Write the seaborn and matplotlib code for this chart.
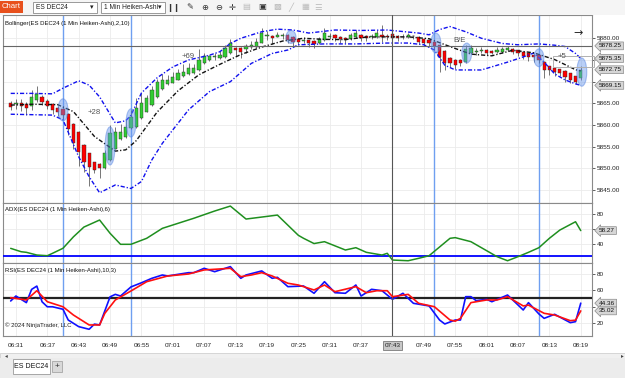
import matplotlib
matplotlib.use("Agg")
import matplotlib.pyplot as plt
import matplotlib.transforms as mtrans
from matplotlib.patches import Ellipse, Rectangle
import seaborn as sns
import pandas as pd

# ---- data (1 min Heiken-Ashi bars, first bar 06:30, last bar 08:19) ----
first_bar = "06:30"
bar_open = [5865.2, 5864.8, 5865.2, 5864.8, 5864.5, 5865.8, 5866.5, 5865.5, 5864.8, 5864.0,
            5863.7, 5862.5, 5860.2, 5858.5, 5855.4, 5853.5, 5851.4, 5851.0, 5850.2, 5852.0,
            5854.6, 5856.8, 5857.3, 5859.3, 5859.6, 5861.6, 5863.1, 5864.6, 5866.5, 5868.2,
            5869.5, 5869.8, 5870.5, 5871.2, 5871.8, 5872.0, 5872.7, 5874.2, 5875.0, 5875.6,
            5875.4, 5875.6, 5876.5, 5877.8, 5877.7, 5877.5, 5877.9, 5878.0, 5879.0, 5880.5,
            5880.5, 5880.4, 5880.6, 5880.8, 5880.4, 5879.8, 5879.3, 5879.5, 5879.3, 5878.9,
            5879.5, 5880.3, 5880.8, 5880.3, 5880.0, 5879.8, 5880.2, 5880.8, 5880.5, 5880.3,
            5880.3, 5880.7, 5880.5, 5881.0, 5880.5, 5880.2, 5880.3, 5880.5, 5880.4, 5879.8,
            5879.5, 5879.2, 5878.5, 5877.0, 5875.4, 5875.1, 5875.0, 5874.6, 5876.5, 5876.9,
            5877.0, 5877.2, 5877.1, 5876.9, 5876.9, 5877.2, 5877.5, 5877.2, 5876.9, 5876.5,
            5876.2, 5876.1, 5874.6, 5873.5, 5873.1, 5872.9, 5872.5, 5871.9, 5871.2, 5870.8]
bar_close = [5864.2, 5865.0, 5864.3, 5863.9, 5866.5, 5867.1, 5865.4, 5864.5, 5863.5, 5863.0,
             5862.3, 5859.2, 5855.8, 5853.9, 5851.4, 5850.4, 5849.6, 5850.0, 5853.5, 5858.1,
             5858.5, 5858.3, 5859.6, 5861.9, 5864.0, 5865.0, 5866.2, 5868.1, 5870.0, 5870.5,
             5870.5, 5871.0, 5872.1, 5872.3, 5873.1, 5873.1, 5875.0, 5875.9, 5875.8, 5875.9,
             5876.1, 5877.7, 5878.8, 5877.3, 5876.9, 5878.2, 5878.5, 5879.2, 5881.1, 5880.8,
             5880.0, 5880.8, 5880.8, 5879.6, 5879.2, 5879.1, 5879.6, 5878.8, 5878.6, 5879.8,
             5881.1, 5880.6, 5880.0, 5879.8, 5879.6, 5880.7, 5881.1, 5880.0, 5880.0, 5880.5,
             5881.1, 5880.2, 5880.3, 5880.0, 5880.0, 5880.4, 5880.7, 5880.4, 5879.2, 5879.0,
             5878.8, 5878.2, 5875.7, 5874.2, 5874.2, 5873.8, 5874.4, 5877.5, 5877.7, 5877.1,
             5877.3, 5876.7, 5876.7, 5877.3, 5877.5, 5877.7, 5876.9, 5876.5, 5875.9, 5875.7,
             5875.6, 5875.0, 5872.7, 5872.7, 5872.3, 5872.1, 5871.0, 5870.5, 5870.0, 5872.75]
bar_high = [5865.6, 5866.0, 5866.1, 5865.4, 5868.1, 5868.9, 5867.0, 5866.0, 5865.0, 5864.3,
            5864.0, 5862.7, 5860.4, 5858.7, 5855.6, 5853.6, 5851.5, 5851.2, 5854.3, 5860.0,
            5859.5, 5860.3, 5861.2, 5863.5, 5866.2, 5867.3, 5867.0, 5869.0, 5870.6, 5871.8,
            5871.5, 5872.2, 5873.0, 5874.0, 5874.3, 5874.0, 5877.5, 5876.6, 5876.2, 5876.7,
            5877.0, 5878.5, 5879.8, 5878.0, 5877.9, 5878.6, 5879.3, 5880.0, 5882.3, 5881.6,
            5880.7, 5881.4, 5881.2, 5881.0, 5880.6, 5880.0, 5880.2, 5879.7, 5879.5, 5880.3,
            5882.3, 5881.3, 5881.0, 5880.5, 5880.2, 5881.3, 5881.9, 5881.0, 5880.7, 5881.0,
            5881.8, 5883.1, 5880.9, 5881.2, 5880.7, 5880.9, 5881.2, 5880.8, 5880.6, 5880.0,
            5879.7, 5879.4, 5878.7, 5877.2, 5875.6, 5875.3, 5875.2, 5878.5, 5878.5, 5877.8,
            5878.0, 5877.5, 5877.3, 5877.9, 5878.0, 5878.3, 5877.7, 5877.4, 5877.1, 5876.7,
            5876.4, 5876.3, 5874.8, 5873.7, 5873.3, 5873.0, 5872.7, 5872.0, 5871.4, 5873.5]
bar_low = [5863.4, 5863.6, 5863.2, 5862.3, 5863.4, 5865.3, 5864.6, 5863.6, 5862.6, 5862.0,
           5861.5, 5857.7, 5854.6, 5850.5, 5849.3, 5846.0, 5849.0, 5847.8, 5849.8, 5851.8,
           5854.4, 5856.6, 5857.1, 5859.1, 5859.4, 5861.4, 5862.9, 5864.4, 5866.3, 5868.0,
           5869.3, 5869.6, 5870.3, 5871.0, 5871.6, 5871.8, 5872.5, 5874.0, 5874.8, 5875.0,
           5875.2, 5875.4, 5876.3, 5876.0, 5875.5, 5876.5, 5877.6, 5877.8, 5878.8, 5879.5,
           5878.7, 5880.2, 5879.9, 5878.9, 5878.2, 5878.5, 5878.9, 5877.9, 5877.7, 5878.7,
           5879.3, 5879.8, 5879.3, 5879.0, 5878.9, 5879.6, 5880.0, 5879.3, 5879.4, 5879.8,
           5880.1, 5879.2, 5879.6, 5879.0, 5879.4, 5879.8, 5880.1, 5879.9, 5878.6, 5878.3,
           5878.0, 5877.3, 5872.3, 5872.7, 5873.3, 5873.0, 5873.5, 5874.4, 5876.3, 5876.2,
           5876.5, 5876.2, 5876.3, 5876.5, 5876.6, 5877.0, 5876.3, 5875.9, 5875.3, 5874.8,
           5874.5, 5874.2, 5870.8, 5871.5, 5871.4, 5871.2, 5870.0, 5869.6, 5869.4, 5870.4]

# Bollinger(2,10) at some bars
bb_upper_idx = [0, 4, 8, 10, 13, 15, 17, 19, 20, 22, 23, 25, 28, 31, 34, 38, 40, 42, 44, 48,
                51, 54, 57, 62, 67, 72, 78, 80, 82, 84, 87, 90, 94, 97, 101, 104, 106, 108, 109]
bb_upper = [5867.3, 5867.3, 5867.2, 5868.5, 5870.2, 5869.2, 5866.5, 5862.5, 5860.5, 5861.0,
            5862.3, 5867.4, 5870.9, 5873.4, 5875.0, 5876.1, 5876.9, 5878.8, 5880.0, 5881.5,
            5882.1, 5881.9, 5881.2, 5881.9, 5881.8, 5881.9, 5881.2, 5880.8, 5882.0, 5882.7,
            5881.5, 5880.0, 5878.8, 5878.5, 5878.7, 5878.4, 5878.1, 5876.5, 5875.35]
bb_mid_idx = [0, 4, 9, 12, 16, 20, 22, 24, 28, 32, 36, 40, 44, 48, 52, 56, 60, 64, 68, 72,
              76, 80, 84, 88, 92, 96, 100, 104, 108, 109]
bb_mid = [5864.6, 5864.8, 5864.7, 5863.1, 5857.4, 5854.0, 5854.3, 5856.4, 5863.0, 5867.9,
          5871.6, 5874.0, 5876.25, 5877.97, 5879.36, 5880.0, 5879.74, 5879.7, 5880.27, 5880.33,
          5880.32, 5879.9, 5878.08, 5876.35, 5875.96, 5877.24, 5876.65, 5875.1, 5872.76, 5872.46]
bb_lower_idx = [0, 8, 10, 13, 15, 17, 20, 23, 25, 27, 29, 31, 34, 38, 42, 46, 50, 53, 55, 60,
                66, 72, 76, 79, 81, 83, 85, 90, 95, 98, 100, 102, 104, 106, 108, 109]
bb_lower = [5862.5, 5862.3, 5861.2, 5852.7, 5848.1, 5844.4, 5846.2, 5845.4, 5847.0, 5852.0,
            5855.8, 5858.9, 5863.5, 5867.7, 5870.0, 5874.2, 5876.5, 5877.3, 5878.5, 5878.7,
            5878.7, 5878.9, 5878.9, 5878.5, 5877.3, 5873.8, 5872.7, 5872.7, 5874.5, 5875.7,
            5876.6, 5874.5, 5871.8, 5870.4, 5869.5, 5869.15]

# ADX(6)
adx_idx = [0, 2, 3, 5, 7, 8, 10, 12, 14, 17, 19, 21, 23, 26, 29, 32, 35, 39, 42, 45,
           51, 55, 56, 58, 60, 64, 66, 68, 71, 72, 73, 76, 78, 80, 84, 85, 88, 90, 93, 95,
           97, 99, 101, 103, 105, 108, 109]
adx_val = [34.6, 30.1, 29.3, 25.7, 24.8, 28.0, 34.7, 50.0, 63.0, 72.4, 54.7, 40.0, 40.0, 48.0,
           61.3, 68.0, 74.7, 84.4, 91.0, 73.7, 79.0, 52.0, 48.0, 41.0, 43.5, 32.4, 35.5, 29.3,
           25.7, 28.0, 19.0, 18.1, 21.3, 24.8, 48.0, 48.9, 43.5, 35.5, 23.5, 18.1, 23.5, 29.3,
           35.5, 48.0, 59.0, 70.1, 58.27]
adx_level = 25

# RSI(10,3)
rsi_idx = [0, 1, 3, 4, 5, 6, 7, 8, 10, 11, 13, 15, 16, 17, 19, 20, 21, 23, 25, 27,
           29, 30, 34, 35, 37, 39, 42, 44, 45, 48, 50, 51, 53, 56, 58, 60, 62, 64, 66, 67,
           69, 71, 73, 75, 77, 80, 82, 83, 85, 86, 87, 88, 89, 91, 92, 95, 97, 98, 99, 101,
           102, 104, 107, 108, 109]
rsi_val = [47, 53, 45, 61, 65, 46, 40, 40, 37, 24, 16, 12.8, 19, 18, 52, 55, 53, 64, 69, 74.4,
           78.4, 77.2, 81.2, 81.2, 86.5, 82.4, 88.5, 74.4, 78.4, 83.3, 74.4, 75.6, 64.3, 65.1, 56.3,
           70.3, 57, 56.3, 66.3, 53, 61.1, 59.4, 49, 56.3, 44.2, 41, 24, 19.2, 24, 24,
           52.2, 52.2, 47.4, 49, 46.1, 54.2, 42.2, 36.1, 45, 31.3, 26, 30.9, 20.8, 22, 44.36]
rsi_avg_idx = [0, 3, 5, 7, 10, 12, 15, 17, 18, 20, 23, 26, 30, 34, 37, 42, 44, 46, 48, 50,
               53, 55, 58, 60, 62, 66, 68, 70, 72, 73, 76, 78, 81, 84, 85, 86, 88, 91, 93, 95,
               98, 99, 102, 104, 107, 108, 109]
rsi_avg = [51, 48.2, 59.4, 46.1, 40, 30, 18, 18, 32.1, 48.2, 59.1, 70.3, 77.2, 79.6, 84.5, 86.5,
           76.4, 78.4, 81.2, 77.2, 68.4, 66.3, 60.3, 66.3, 58.2, 64.3, 57, 59.4, 59.4, 52.2,
           55, 44.2, 40.1, 24, 22.6, 26, 45, 48.2, 48.2, 52.2, 41, 42, 32.1, 30, 23.2, 23.8, 35.02]
rsi_level = 50

time_labels = ["06:31", "06:37", "06:43", "06:49", "06:55", "07:01", "07:07", "07:13", "07:19",
               "07:25", "07:31", "07:37", "07:43", "07:49", "07:55", "08:01", "08:07", "08:13", "08:19"]
cursor_time = "07:43"
cursor_price = 5878.25
signal_times = ["06:40", "06:53", "07:51", "08:11"]

# trade marker ellipses: (bar, price, points high)
mark_bar = [10, 19, 23, 53.6, 81.3, 87.2, 101, 109.2]
mark_price = [5863.5, 5855.2, 5860.5, 5880.3, 5878.9, 5876.6, 5875.5, 5872.2]
mark_h = [5.1, 8.8, 6.5, 3.0, 4.6, 4.6, 4.1, 6.5]
trade_text = ["+28", "+69", "B/E", "+5"]
trade_bar = [14.8, 32.6, 84.6, 104.6]
trade_price = [5862.8, 5875.9, 5879.6, 5875.7]

price_ticks = [5845, 5850, 5855, 5860, 5865, 5870, 5875, 5880]
price_hidden = [5870, 5875]   # covered by the value tags


def bar_of(t):
    return (pd.Timedelta(t + ":00") - pd.Timedelta(first_bar + ":00")).seconds / 60


sns.set_theme(style="white")
plt.rcParams['font.family'] = ['Liberation Sans', 'DejaVu Sans']

W, H = 625, 378
fig = plt.figure(figsize=(6.25, 3.78), dpi=100)
fig.patch.set_facecolor("white")


def fx(px):
    return px / W


def fy(py):
    return 1 - py / H


def add_panel(top, bottom):
    return fig.add_axes([fx(3), fy(bottom), fx(592) - fx(3), fy(top) - fy(bottom)])


ax_p = add_panel(15, 203)
ax_a = add_panel(203, 263)
ax_r = add_panel(263, 336)

xlim = (-1.47, 111.15)
tick_pos = [bar_of(t) for t in time_labels]
for ax in (ax_p, ax_a, ax_r):
    ax.set_xlim(*xlim)
    ax.set_facecolor("white")
    ax.yaxis.tick_right()
    ax.set_xticks(tick_pos)
    ax.grid(True, color="#ebebeb", lw=0.6)
    ax.tick_params(axis="y", labelsize=4.6, length=2, width=0.5, pad=1.5, colors="#222222")
    ax.tick_params(axis="x", length=0, labelbottom=False)
    for s in ax.spines.values():
        s.set_color("#8a8a8a")
        s.set_linewidth(0.8)
    for t in signal_times:
        ax.axvline(bar_of(t), color="#6f9ff0", lw=1.0, zorder=1)
    ax.axvline(bar_of(cursor_time), color="#555555", lw=0.8, zorder=6)

# ---- price panel ----
ax_p.set_ylim(5842.05, 5885.36)
ax_p.set_yticks(price_ticks)
ax_p.set_yticklabels(["" if v in price_hidden else f"{v:.2f}" for v in price_ticks])
bars = list(range(len(bar_open)))
ax_p.vlines(bars, bar_low, bar_high, color="#404040", lw=0.5, zorder=3)
body_col = ["#32cd32" if c >= o else "#ff0000" for o, c in zip(bar_open, bar_close)]
body_h = [c - o if abs(c - o) > 0.12 else 0.12 for o, c in zip(bar_open, bar_close)]
ax_p.bar(bars, body_h, bottom=bar_open, width=0.62, color=body_col,
         edgecolor="#2a2a2a", linewidth=0.3, zorder=4)

band_ls = (0, (3.0, 1.4, 0.9, 1.4))
sns.lineplot(x=bb_upper_idx, y=bb_upper, ax=ax_p, color="#1010ee", lw=1.0, linestyle=band_ls, zorder=5)
sns.lineplot(x=bb_lower_idx, y=bb_lower, ax=ax_p, color="#1010ee", lw=1.0, linestyle=band_ls, zorder=5)
sns.lineplot(x=bb_mid_idx, y=bb_mid, ax=ax_p, color="#111111", lw=1.0, linestyle=band_ls, zorder=5)

for b, p, h in zip(mark_bar, mark_price, mark_h):
    ax_p.add_patch(Ellipse((b, p), 1.9, h, facecolor="#6495ed", alpha=0.45,
                           edgecolor="#4f7fe0", lw=0.8, zorder=7))
for s, b, p in zip(trade_text, trade_bar, trade_price):
    ax_p.text(b, p, s, fontsize=5.6, color="#555555", va="center", zorder=8)
ax_p.add_patch(Rectangle((103.6, 5873.4), 8.0, 2.6, fill=False, ec="#b0b0b0", lw=0.7,
                         zorder=7, clip_on=False))
ax_p.axhline(cursor_price, color="#666666", lw=0.8, zorder=6)
ax_p.text(0.985, 0.905, "\u2192", transform=ax_p.transAxes, fontsize=8, ha="right",
          va="center", color="#222222", family=["DejaVu Sans"])
ax_p.text(0.004, 0.955, "Bollinger(ES DEC24 (1 Min Heiken-Ashi),2,10)", transform=ax_p.transAxes,
          fontsize=4.3, va="center", color="#111111")
ax_p.set_xlabel("")
ax_p.set_ylabel("")

# ---- ADX panel ----
ax_a.set_ylim(15.07, 95.1)
ax_a.set_yticks([40, 60, 80])
ax_a.set_yticklabels(["40", "", "80"])
ax_a.axhline(adx_level, color="#0000ff", lw=1.3, zorder=4)
sns.lineplot(x=adx_idx, y=adx_val, ax=ax_a, color="#1f8f1f", lw=1.1, zorder=5)
ax_a.text(0.004, 0.885, "ADX(ES DEC24 (1 Min Heiken-Ashi),6)", transform=ax_a.transAxes,
          fontsize=4.3, va="center", color="#111111")
ax_a.set_xlabel("")
ax_a.set_ylabel("")

# ---- RSI panel ----
ax_r.set_ylim(4.67, 92.9)
ax_r.set_yticks([20, 40, 60, 80])
ax_r.set_yticklabels(["20", "", "60", "80"])
ax_r.axhline(rsi_level, color="#222222", lw=1.6, zorder=4)
sns.lineplot(x=rsi_idx, y=rsi_val, ax=ax_r, color="#1010ff", lw=1.2, zorder=5)
sns.lineplot(x=rsi_avg_idx, y=rsi_avg, ax=ax_r, color="#ff1010", lw=1.2, zorder=6)
ax_r.text(0.004, 0.9, "RSI(ES DEC24 (1 Min Heiken-Ashi),10,3)", transform=ax_r.transAxes,
          fontsize=4.3, va="center", color="#111111")
ax_r.text(0.004, 0.15, "\u00a9 2024 NinjaTrader, LLC", transform=ax_r.transAxes,
          fontsize=4.3, va="center", color="#222222")
ax_r.set_xlabel("")
ax_r.set_ylabel("")
ax_r.set_xticks(tick_pos)
ax_r.set_xticklabels(time_labels)
ax_r.tick_params(axis="x", labelbottom=True, labelsize=4.6, pad=5, colors="#222222")
for lab in ax_r.get_xticklabels():
    if lab.get_text() == cursor_time:
        lab.set_bbox(dict(boxstyle="square,pad=0.3", fc="#c8c8c8", ec="#7a7a7a", lw=0.6))


# ---- value tags on the right axis ----
def tag(ax, val, text):
    tr = mtrans.blended_transform_factory(ax.transAxes, ax.transData)
    ax.text(1.012, val, text, transform=tr, fontsize=4.6, va="center", ha="left",
            color="#111111", zorder=10, clip_on=False,
            bbox=dict(boxstyle="larrow,pad=0.22", fc="#d6d6d6", ec="#8a8a8a", lw=0.5))


tag(ax_p, cursor_price, "5878.25")
tag(ax_p, bb_upper[-1], "5875.35")
tag(ax_p, bar_close[-1], "5872.75")
tag(ax_p, bb_lower[-1], "5869.15")
tag(ax_a, adx_val[-1], "58.27")
tag(ax_r, rsi_val[-1], "44.36")
tag(ax_r, rsi_avg[-1], "35.02")

# ---- window chrome: toolbar, scrollbar, tab strip ----
fig.patches.append(Rectangle((0, fy(15)), 1, 15 / H, transform=fig.transFigure,
                             fc="#f5f5f5", ec="none", zorder=0))
fig.patches.append(Rectangle((0, fy(12.5)), fx(23), 11.5 / H, transform=fig.transFigure,
                             fc="#e8501c", ec="none"))
fig.text(fx(11.5), fy(7), "Chart", fontsize=5.6, color="white", ha="center", va="center")
for x0, x1, s in [(33, 97, "ES DEC24"), (101, 165, "1 Min Heiken-Ashi")]:
    fig.patches.append(Rectangle((fx(x0), fy(12.5)), fx(x1 - x0), 10.5 / H,
                                 transform=fig.transFigure, fc="white", ec="#8a8a8a", lw=0.6))
    fig.text(fx(x0 + 3), fy(7.3), s, fontsize=4.8, color="#222222", va="center")
    fig.text(fx(x1 - 5), fy(7.3), "\u25be", fontsize=5, color="#222222", va="center",
             ha="center", family=["DejaVu Sans"])
icons = ["\u2759\u2759", "\u270e", "\u2295", "\u2296", "\u271b", "\u25a4", "\u25a3", "\u25a9",
         "\u2571", "\u25a6", "\u2630"]
icon_x = [173, 190, 205, 219, 232, 246, 262, 277, 291, 305, 318]
for i, (s, x) in enumerate(zip(icons, icon_x)):
    fig.text(fx(x), fy(7), s, fontsize=6, color="#333333" if i < 5 or i == 6 else "#bbbbbb",
             ha="center", va="center", family=["DejaVu Sans"])

fig.patches.append(Rectangle((0, fy(358)), 1, 5 / H, transform=fig.transFigure,
                             fc="#f0f0f0", ec="#c8c8c8", lw=0.5))
fig.text(fx(5), fy(355.5), "\u25c2", fontsize=4, color="#444444", va="center", family=["DejaVu Sans"])
fig.text(fx(621), fy(355.5), "\u25b8", fontsize=4, color="#444444", va="center", family=["DejaVu Sans"])
fig.patches.append(Rectangle((0, 0), 1, 20 / H, transform=fig.transFigure,
                             fc="#ececec", ec="none"))
fig.patches.append(Rectangle((fx(13), fy(374)), fx(37), 15 / H, transform=fig.transFigure,
                             fc="white", ec="#9a9a9a", lw=0.6))
fig.text(fx(31.5), fy(366.5), "ES DEC24", fontsize=5, color="#111111", ha="center", va="center")
fig.patches.append(Rectangle((fx(52), fy(372)), fx(10), 11 / H, transform=fig.transFigure,
                             fc="#d8d8d8", ec="#9a9a9a", lw=0.5))
fig.text(fx(57), fy(366.5), "+", fontsize=6, color="#333333", ha="center", va="center")

fig.savefig("out.png", dpi=100, facecolor=fig.get_facecolor())
